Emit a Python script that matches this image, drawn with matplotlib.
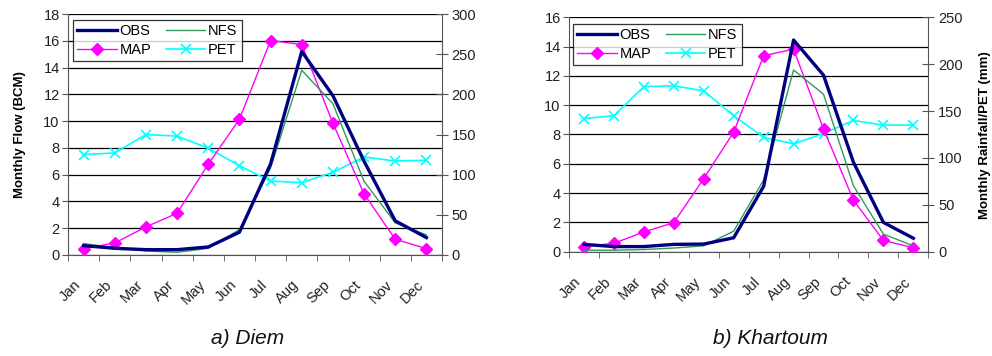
import numpy as np
import matplotlib
matplotlib.use("Agg")
import matplotlib.pyplot as plt
from matplotlib.ticker import FixedLocator, NullFormatter
from matplotlib.transforms import ScaledTranslation

plt.rcParams['font.family'] = ['Liberation Sans', 'DejaVu Sans']

months = ["Jan", "Feb", "Mar", "Apr", "May", "Jun",
          "Jul", "Aug", "Sep", "Oct", "Nov", "Dec"]

# Diem: flows (BCM), rainfall and PET (mm)
diem_obs = [0.7, 0.5, 0.4, 0.4, 0.6, 1.7, 6.8, 15.2, 11.9, 7.0, 2.55, 1.3]
diem_nfs = [0.85, 0.55, 0.3, 0.2, 0.5, 1.9, 6.5, 13.8, 11.3, 5.5, 2.4, 1.5]
diem_map = [8, 15, 35, 52, 113, 169, 267, 262, 164, 76, 19.5, 8]
diem_pet = [125, 127, 150, 148, 133, 111, 92, 90, 103, 122, 117, 118]

# Khartoum: flows (BCM), rainfall and PET (mm)
khar_obs = [0.5, 0.35, 0.35, 0.5, 0.52, 0.95, 4.46, 14.45, 12.05, 6.1, 2.0, 0.92]
khar_nfs = [0.1, 0.1, 0.15, 0.25, 0.4, 1.4, 4.9, 12.4, 10.75, 4.5, 1.2, 0.4]
khar_map = [5.4, 9, 21, 31, 78, 127.5, 209, 216, 131, 55, 12, 4.3]
khar_pet = [142, 145, 176, 177, 171.5, 145, 122, 115, 126, 140, 135, 135]

W, H = 992, 356
fig = plt.figure(figsize=(W / 100, H / 100), dpi=100)


def px_axes(x0, y0, x1, y1):
    return fig.add_axes([x0 / W, (H - y1) / H, (x1 - x0) / W, (y1 - y0) / H])


def panel(rect, obs, nfs, rain, pet, ymax, rmax, title, title_x, legend_anchor):
    ax = px_axes(*rect)
    x = np.arange(len(months)) + 0.5

    ax.set_xlim(0, 12)
    ax.set_ylim(0, ymax)
    ax.set_yticks(np.arange(0, ymax + 0.1, 2))
    ax.yaxis.grid(True, color="black", linewidth=0.9)
    ax.set_axisbelow(True)
    for s in ("top", "right"):
        ax.spines[s].set_visible(False)
    ax.spines["left"].set_color("#555555")
    ax.spines["bottom"].set_color("#555555")
    ax.tick_params(axis="y", direction="out", length=4, labelsize=10.5,
                   color="#555555", pad=2, labelcolor="#222222")

    ax.xaxis.set_major_locator(FixedLocator(x))
    ax.xaxis.set_minor_locator(FixedLocator(np.arange(0, 13)))
    ax.xaxis.set_minor_formatter(NullFormatter())
    ax.set_xticklabels(months, rotation=45, ha="right", va="center",
                       rotation_mode="anchor", fontsize=10.5, color="#222222")
    ax.tick_params(axis="x", which="major", length=0, pad=20)
    ax.tick_params(axis="x", which="minor", direction="out", length=4,
                   color="#555555")
    shift = ScaledTranslation(-5 / 100, 0, fig.dpi_scale_trans)
    for lab in ax.get_xticklabels():
        lab.set_transform(lab.get_transform() + shift)

    ax2 = ax.twinx()
    ax2.set_ylim(0, rmax)
    ax2.set_yticks(np.arange(0, rmax + 1, 50))
    for s in ("top", "left", "bottom"):
        ax2.spines[s].set_visible(False)
    ax2.spines["right"].set_color("#555555")
    ax2.tick_params(axis="y", direction="inout", length=8, labelsize=10.5,
                    color="#555555", pad=3, labelcolor="#222222")

    # flows on the left axis, rainfall and PET on the right axis
    h_obs, = ax2.plot(x, np.array(obs) * rmax / ymax, color="#000080",
                      linewidth=2.4, zorder=5)
    h_nfs, = ax2.plot(x, np.array(nfs) * rmax / ymax, color="#2E9B5E",
                      linewidth=1.0, zorder=4)
    h_map, = ax2.plot(x, rain, color="#FF00FF", linewidth=1.0, marker="D",
                      markersize=6, zorder=3)
    h_pet, = ax2.plot(x, pet, color="#00FFFF", linewidth=1.2, marker="x",
                      markersize=7, markeredgewidth=1.2, zorder=2)

    leg = ax2.legend([h_obs, h_map, h_nfs, h_pet], ["OBS", "MAP", "NFS", "PET"],
                     ncol=2, loc="upper left", bbox_to_anchor=legend_anchor,
                     borderaxespad=0, frameon=True, fancybox=False,
                     fontsize=10.5, handlelength=2.7, handletextpad=0.2,
                     columnspacing=1.0, labelspacing=0.3, borderpad=0.3)
    leg.get_frame().set_edgecolor("black")
    leg.get_frame().set_linewidth(0.9)

    fig.text(title_x / W, 1 - 338 / H, title, fontsize=15, style="italic",
             ha="center", va="center", color="#111111")
    return ax, ax2


axL, axL2 = panel((68, 14, 442, 255), diem_obs, diem_nfs, diem_map, diem_pet,
                  18, 300, "a) Diem", 248, (0.013, 0.975))
axR, axR2 = panel((569, 17.3, 928.3, 251.7), khar_obs, khar_nfs, khar_map,
                  khar_pet, 16, 250, "b) Khartoum", 770, (0.011, 0.971))

fig.text(20 / W, 1 - 135 / H, "Monthly Flow (BCM)", rotation=90, fontsize=9.5,
         fontweight="bold", ha="center", va="center")
fig.text(985 / W, 1 - 135 / H, "Monthly Rainfall/PET (mm)", rotation=90,
         fontsize=9.5, fontweight="bold", ha="center", va="center")

fig.savefig("out.png", dpi=100)
